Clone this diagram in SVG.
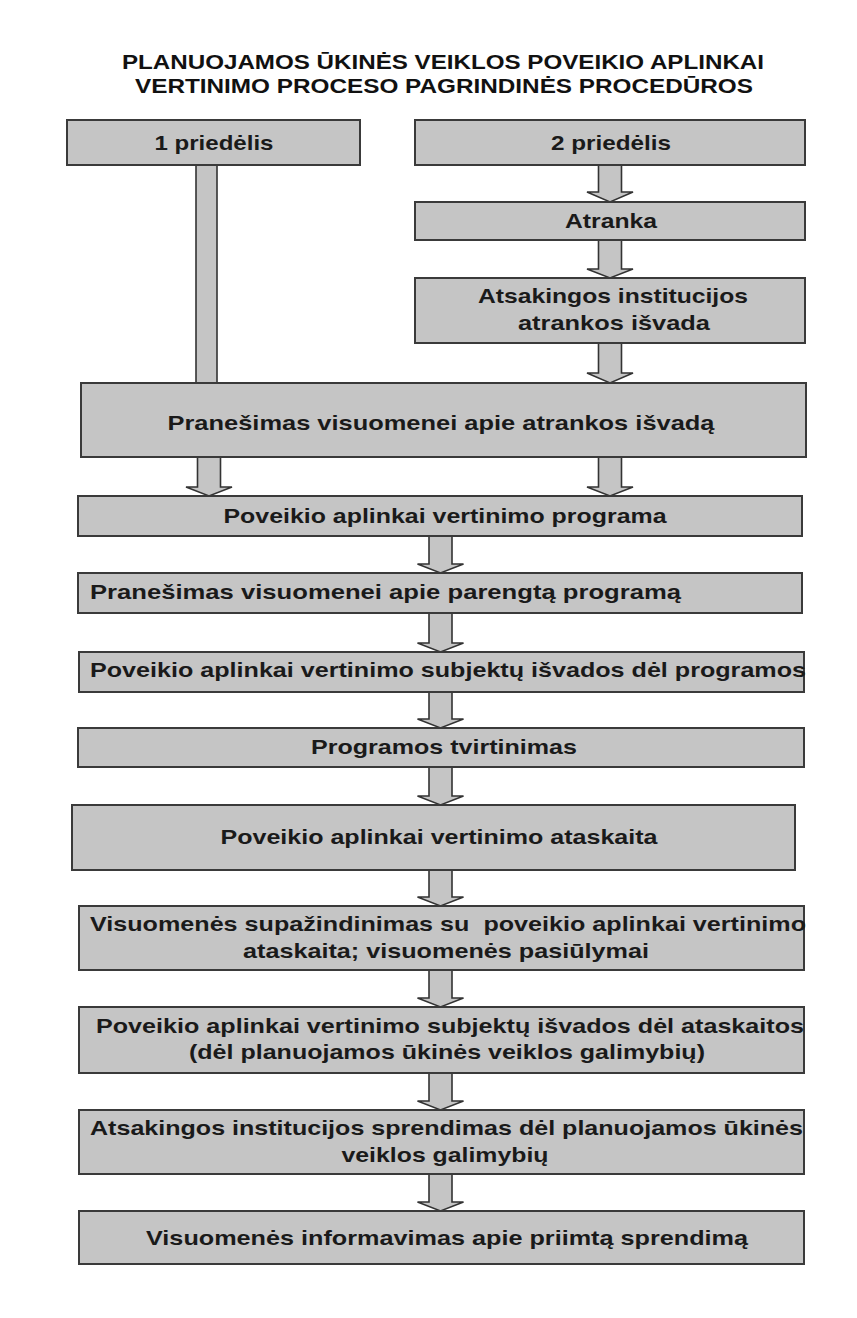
<svg xmlns="http://www.w3.org/2000/svg" width="857" height="1318" viewBox="0 0 857 1318">
<style>
.box{fill:#c5c5c5;stroke:#3a3a3a;stroke-width:2}
.arr{fill:#c5c5c5;stroke:#333;stroke-width:1.6;stroke-linejoin:miter}
.t{font-family:"Liberation Sans",Arial,sans-serif;font-size:21px;font-weight:bold;fill:#1a1a1a;text-anchor:middle}
.s{text-anchor:start}
.title{font-family:"Liberation Sans",Arial,sans-serif;font-size:21px;font-weight:bold;fill:#111;text-anchor:middle}
</style>
<rect x="0" y="0" width="857" height="1318" fill="#ffffff"/>
<g id="title">
<text class="title" x="443" y="69" textLength="642" lengthAdjust="spacingAndGlyphs">PLANUOJAMOS ŪKINĖS VEIKLOS POVEIKIO APLINKAI</text>
<text class="title" x="444" y="93" textLength="618" lengthAdjust="spacingAndGlyphs">VERTINIMO PROCESO PAGRINDINĖS PROCEDŪROS</text>
</g>
<g id="connectors">
<rect class="arr" x="196" y="165" width="21" height="218"/>
<path class="arr" d="M598.5,165 V192 H587 L610,202 L633,192 H621.5 V165 Z"/>
<path class="arr" d="M598.5,240 V269 H587 L610,278 L633,269 H621.5 V240 Z"/>
<path class="arr" d="M598.5,343 V373 H587 L610,383 L633,373 H621.5 V343 Z"/>
<path class="arr" d="M197.5,457 V487 H186 L209,496 L232,487 H220.5 V457 Z"/>
<path class="arr" d="M598.5,457 V487 H587 L610,496 L633,487 H621.5 V457 Z"/>
<path class="arr" d="M429,536 V564 H417.5 L440.5,573 L463.5,564 H452 V536 Z"/>
<path class="arr" d="M429,613 V643 H417.5 L440.5,652 L463.5,643 H452 V613 Z"/>
<path class="arr" d="M429,692 V719 H417.5 L440.5,728 L463.5,719 H452 V692 Z"/>
<path class="arr" d="M429,767 V796 H417.5 L440.5,805 L463.5,796 H452 V767 Z"/>
<path class="arr" d="M429,870 V897 H417.5 L440.5,906 L463.5,897 H452 V870 Z"/>
<path class="arr" d="M429,970 V998 H417.5 L440.5,1007 L463.5,998 H452 V970 Z"/>
<path class="arr" d="M429,1073 V1101 H417.5 L440.5,1110 L463.5,1101 H452 V1073 Z"/>
<path class="arr" d="M429,1174 V1202 H417.5 L440.5,1211 L463.5,1202 H452 V1174 Z"/>
</g>
<g id="n1"><rect class="box" x="67" y="120" width="293" height="45"/><text class="t" x="214" y="150" textLength="119" lengthAdjust="spacingAndGlyphs">1 priedėlis</text></g>
<g id="n2"><rect class="box" x="415" y="120" width="390" height="45"/><text class="t" x="611" y="150" textLength="120" lengthAdjust="spacingAndGlyphs">2 priedėlis</text></g>
<g id="n3"><rect class="box" x="415" y="202" width="390" height="38"/><text class="t" x="611" y="228" textLength="92" lengthAdjust="spacingAndGlyphs">Atranka</text></g>
<g id="n4"><rect class="box" x="415" y="278" width="390" height="65"/><text class="t" x="613" y="303" textLength="270" lengthAdjust="spacingAndGlyphs">Atsakingos institucijos</text><text class="t" x="614" y="330" textLength="192" lengthAdjust="spacingAndGlyphs">atrankos išvada</text></g>
<g id="n5"><rect class="box" x="81" y="383" width="725" height="74"/><text class="t" x="441" y="430" textLength="547" lengthAdjust="spacingAndGlyphs">Pranešimas visuomenei apie atrankos išvadą</text></g>
<g id="n6"><rect class="box" x="78" y="496" width="724" height="40"/><text class="t" x="445" y="523" textLength="443" lengthAdjust="spacingAndGlyphs">Poveikio aplinkai vertinimo programa</text></g>
<g id="n7"><rect class="box" x="78" y="573" width="724" height="40"/><text class="t s" x="90" y="599" textLength="591" lengthAdjust="spacingAndGlyphs">Pranešimas visuomenei apie parengtą programą</text></g>
<g id="n8"><rect class="box" x="79" y="652" width="725" height="40"/><text class="t s" x="90" y="677" textLength="716" lengthAdjust="spacingAndGlyphs">Poveikio aplinkai vertinimo subjektų išvados dėl programos</text></g>
<g id="n9"><rect class="box" x="78" y="728" width="726" height="39"/><text class="t" x="444" y="754" textLength="266" lengthAdjust="spacingAndGlyphs">Programos tvirtinimas</text></g>
<g id="n10"><rect class="box" x="72" y="805" width="723" height="65"/><text class="t" x="439" y="844" textLength="437" lengthAdjust="spacingAndGlyphs">Poveikio aplinkai vertinimo ataskaita</text></g>
<g id="n11"><rect class="box" x="79" y="906" width="725" height="64"/><text class="t s" x="90" y="931" textLength="716" lengthAdjust="spacingAndGlyphs" xml:space="preserve">Visuomenės supažindinimas su  poveikio aplinkai vertinimo</text><text class="t" x="446" y="958" textLength="406" lengthAdjust="spacingAndGlyphs">ataskaita; visuomenės pasiūlymai</text></g>
<g id="n12"><rect class="box" x="79" y="1007" width="725" height="66"/><text class="t s" x="96" y="1033" textLength="708" lengthAdjust="spacingAndGlyphs">Poveikio aplinkai vertinimo subjektų išvados dėl ataskaitos</text><text class="t" x="447" y="1059" textLength="516" lengthAdjust="spacingAndGlyphs">(dėl planuojamos ūkinės veiklos galimybių)</text></g>
<g id="n13"><rect class="box" x="79" y="1110" width="725" height="64"/><text class="t s" x="90" y="1135" textLength="713" lengthAdjust="spacingAndGlyphs">Atsakingos institucijos sprendimas dėl planuojamos ūkinės</text><text class="t" x="445" y="1162" textLength="207" lengthAdjust="spacingAndGlyphs">veiklos galimybių</text></g>
<g id="n14"><rect class="box" x="79" y="1211" width="725" height="53"/><text class="t" x="447" y="1245" textLength="602" lengthAdjust="spacingAndGlyphs">Visuomenės informavimas apie priimtą sprendimą</text></g>
</svg>
